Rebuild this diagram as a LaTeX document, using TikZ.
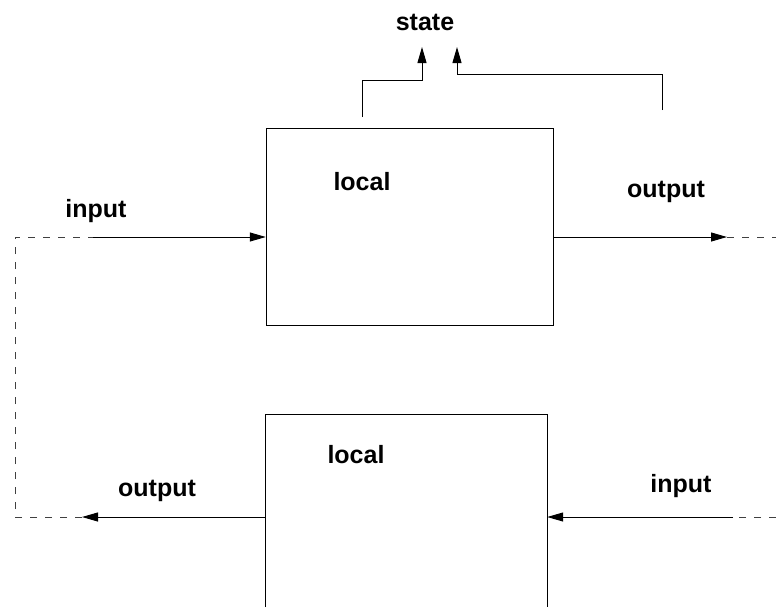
\documentclass[tikz,border=0pt]{standalone}
\usepackage{fontspec}
\setmainfont{Liberation Sans}
\usetikzlibrary{arrows.meta}
\tikzset{
  blockbox/.style={minimum width=287pt, minimum height=197pt, inner sep=0pt},
  lbl/.style={font=\fontsize{25}{28}\selectfont\bfseries, inner sep=0pt},
  wire/.style={line width=1pt},
  flow/.style={wire, -{Triangle[length=16pt,width=9pt]}},
  link/.style={wire, dashed, dash pattern=on 7pt off 8pt, draw=black!75},
}
\begin{document}
\begin{tikzpicture}[x=1pt, y=-1pt]
  \useasboundingbox (0,0) rectangle (776,611);
  % blocks
  \node[blockbox, draw] (upper) at (409.5,226.5) {};
  \node[blockbox, minimum width=281pt, minimum height=192pt] (lower) at (406.5,511) {};
  \draw[wire] (lower.south west) -- (lower.north west) -- (lower.north east) -- (lower.south east);

  % labels
  \node[lbl] (state) at (425,22) {state};
  \node[lbl] (loc1) at (362,182) {local};
  \node[lbl] (loc2) at (356,455) {local};
  \node[lbl] (in1) at (96,211) {input};
  \node[lbl] (out1) at (666,192) {output};
  \node[lbl] (out2) at (157,491) {output};
  \node[lbl] (in2) at (681,486) {input};

  % free ends
  \coordinate (fbL) at (15,237);
  \coordinate (fbLb) at (15,517);
  \coordinate (inA) at (93,237);
  \coordinate (outA) at (727,237);
  \coordinate (outAend) at (776,237);
  \coordinate (outB) at (82,517);
  \coordinate (inB) at (733,517);
  \coordinate (inBend) at (776,517);
  \coordinate (stL) at (362,117);
  \coordinate (stR) at (662,110);
  \coordinate (tipL) at (422,47);
  \coordinate (tipR) at (457,47);

  % state taps
  \draw[flow] (stL) |- ++(60,-37) -- (tipL);
  \draw[flow] (stR) |- ++(-205,-36) -- (tipR);

  % signals
  \draw[flow] (inA) -- (inA -| upper.west);
  \draw[flow] (outA -| upper.east) -- (outA);
  \draw[flow] (outB -| lower.west) -- (outB);
  \draw[flow] (inB) -- (inB -| lower.east);

  % feedback
  \draw[link] (outB) -- (fbLb) -- (fbL) -- (inA);
  \draw[link] (outA) -- (outAend);
  \draw[link] (inBend) -- (inB);
\end{tikzpicture}
\end{document}
